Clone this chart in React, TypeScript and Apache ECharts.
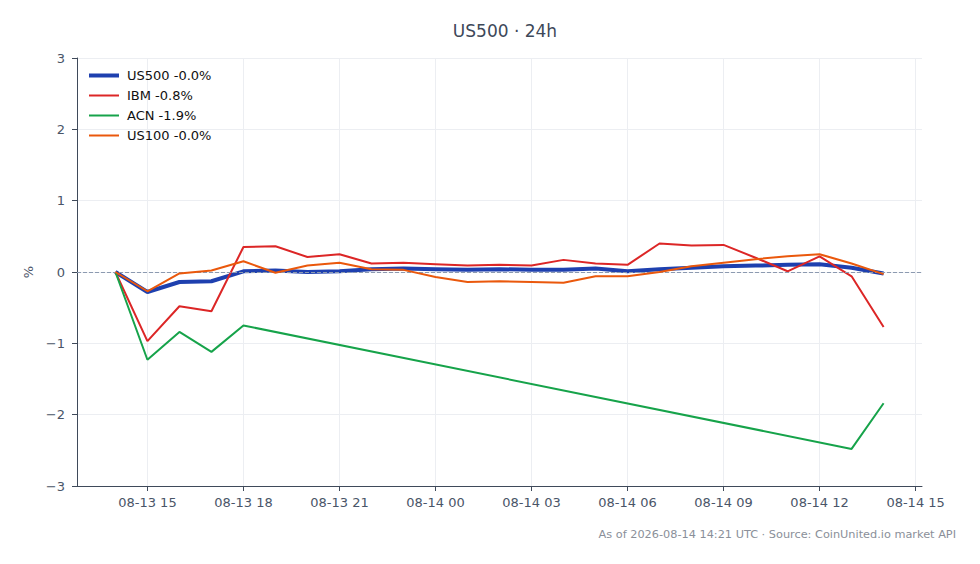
import { useEffect, useRef } from 'react';
import * as echarts from 'echarts';

// hourly samples, 08-13 14:00 UTC → 08-14 14:00 UTC
const startTime = Date.UTC(2026, 7, 13, 14);
const HOUR = 3600 * 1000;

const seriesNames = ['US500 -0.0%', 'IBM -0.8%', 'ACN -1.9%', 'US100 -0.0%'];
const seriesColors = ['#1e40af', '#dc2626', '#16a34a', '#ea580c'];
const seriesWidths = [4, 2, 2, 2];

const us500 = [0, -0.28, -0.14, -0.13, 0.01, 0.02, 0.0, 0.01, 0.04, 0.05, 0.04, 0.03, 0.04, 0.03, 0.03, 0.05, 0.01, 0.04, 0.06, 0.08, 0.09, 0.1, 0.11, 0.06, -0.02];
const ibm = [0, -0.97, -0.48, -0.55, 0.35, 0.36, 0.21, 0.25, 0.12, 0.13, 0.11, 0.09, 0.1, 0.09, 0.17, 0.12, 0.1, 0.4, 0.37, 0.38, 0.2, 0.01, 0.22, -0.06, -0.77];
const acn = [0, -1.23, -0.84, -1.12, -0.75, null, null, null, null, null, null, null, null, null, null, null, null, null, null, null, null, null, null, -2.48, -1.84];
const us100 = [0, -0.27, -0.02, 0.02, 0.15, -0.01, 0.09, 0.13, 0.04, 0.03, -0.07, -0.14, -0.13, -0.14, -0.15, -0.06, -0.06, 0.0, 0.08, 0.13, 0.18, 0.22, 0.25, 0.12, -0.03];

// x ticks every 3h from 08-13 15:00
const tickTimes = [0, 1, 2, 3, 4, 5, 6, 7, 8].map(k => Date.UTC(2026, 7, 13, 15) + k * 3 * HOUR);

const pad2 = (n: number) => String(n).padStart(2, '0');
const fmtTime = (v: number) => {
  const d = new Date(v);
  return pad2(d.getUTCMonth() + 1) + '-' + pad2(d.getUTCDate()) + ' ' + pad2(d.getUTCHours());
};

const FONT = 'DejaVu Sans';

const App = () => {
  const chartRef = useRef<HTMLDivElement>(null);

  useEffect(() => {
    if (!chartRef.current) return;
    document.body.style.margin = '0';
    const chart = echarts.init(chartRef.current, null, { renderer: 'svg' });

    const allValues = [us500, ibm, acn, us100];
    const span = (us500.length - 1) * HOUR;

    const option: echarts.EChartsOption = {
      animation: false,
      textStyle: { fontFamily: FONT },
      title: {
        text: 'US500 · 24h',
        left: 500,
        top: 17,
        textAlign: 'center',
        textStyle: { fontSize: 17, fontWeight: 'normal', color: '#3d4859', fontFamily: FONT }
      },
      legend: {
        orient: 'vertical',
        left: 82,
        top: 64,
        itemWidth: 30,
        itemHeight: 14,
        itemGap: 7,
        itemStyle: { opacity: 0 },
        textStyle: { fontSize: 13, color: '#111111', fontFamily: FONT, padding: [0, 0, 0, 3] },
        data: seriesNames.map((name, i) => ({
          name,
          lineStyle: { width: seriesWidths[i], color: seriesColors[i] }
        }))
      },
      grid: { left: 77, right: 58, top: 58, bottom: 78 },
      xAxis: {
        type: 'value',
        min: startTime - span * 0.05,
        max: startTime + span * 1.05,
        axisLine: { show: true, onZero: false, lineStyle: { color: '#3f4a5a' } },
        axisTick: { show: true, length: 5, customValues: tickTimes, lineStyle: { color: '#3f4a5a' } },
        axisLabel: {
          customValues: tickTimes,
          formatter: (v: number) => fmtTime(v),
          fontSize: 13,
          color: '#4a5568',
          margin: 10,
          fontFamily: FONT
        },
        splitLine: { show: true, lineStyle: { color: '#eceef2' } }
      },
      yAxis: {
        type: 'value',
        min: -3,
        max: 3,
        interval: 1,
        name: '%',
        nameLocation: 'middle',
        nameGap: 41,
        nameTextStyle: { fontSize: 13, color: '#4a5568', fontFamily: FONT },
        axisLine: { show: true, lineStyle: { color: '#3f4a5a' } },
        axisTick: { show: true, length: 5, lineStyle: { color: '#3f4a5a' } },
        axisLabel: {
          fontSize: 13,
          color: '#4a5568',
          margin: 12,
          fontFamily: FONT,
          formatter: (v: number) => String(v).replace('-', '\u2212')
        },
        splitLine: { show: true, lineStyle: { color: '#eceef2' } }
      },
      series: seriesNames.map((name, i) => ({
        name,
        type: 'line',
        symbol: 'none',
        connectNulls: true,
        data: allValues[i].map((v, k) => [startTime + k * HOUR, v]),
        lineStyle: { color: seriesColors[i], width: seriesWidths[i] },
        itemStyle: { color: seriesColors[i] },
        markLine:
          i === 0
            ? {
                silent: true,
                symbol: 'none',
                label: { show: false },
                lineStyle: { color: '#8c9ab0', type: 'dashed', width: 1 },
                data: [{ yAxis: 0 }]
              }
            : undefined,
        z: 2 + i
      })),
      graphic: [
        {
          type: 'text',
          right: 24,
          top: 529,
          style: {
            text: 'As of 2026-08-14 14:21 UTC · Source: CoinUnited.io market API',
            font: '11.3px "DejaVu Sans"',
            fill: '#8a8f99'
          }
        }
      ]
    };

    chart.setOption(option);
    return () => chart.dispose();
  }, []);

  return <div ref={chartRef} style={{ width: '980px', height: '564px' }} />;
};

export default App;
